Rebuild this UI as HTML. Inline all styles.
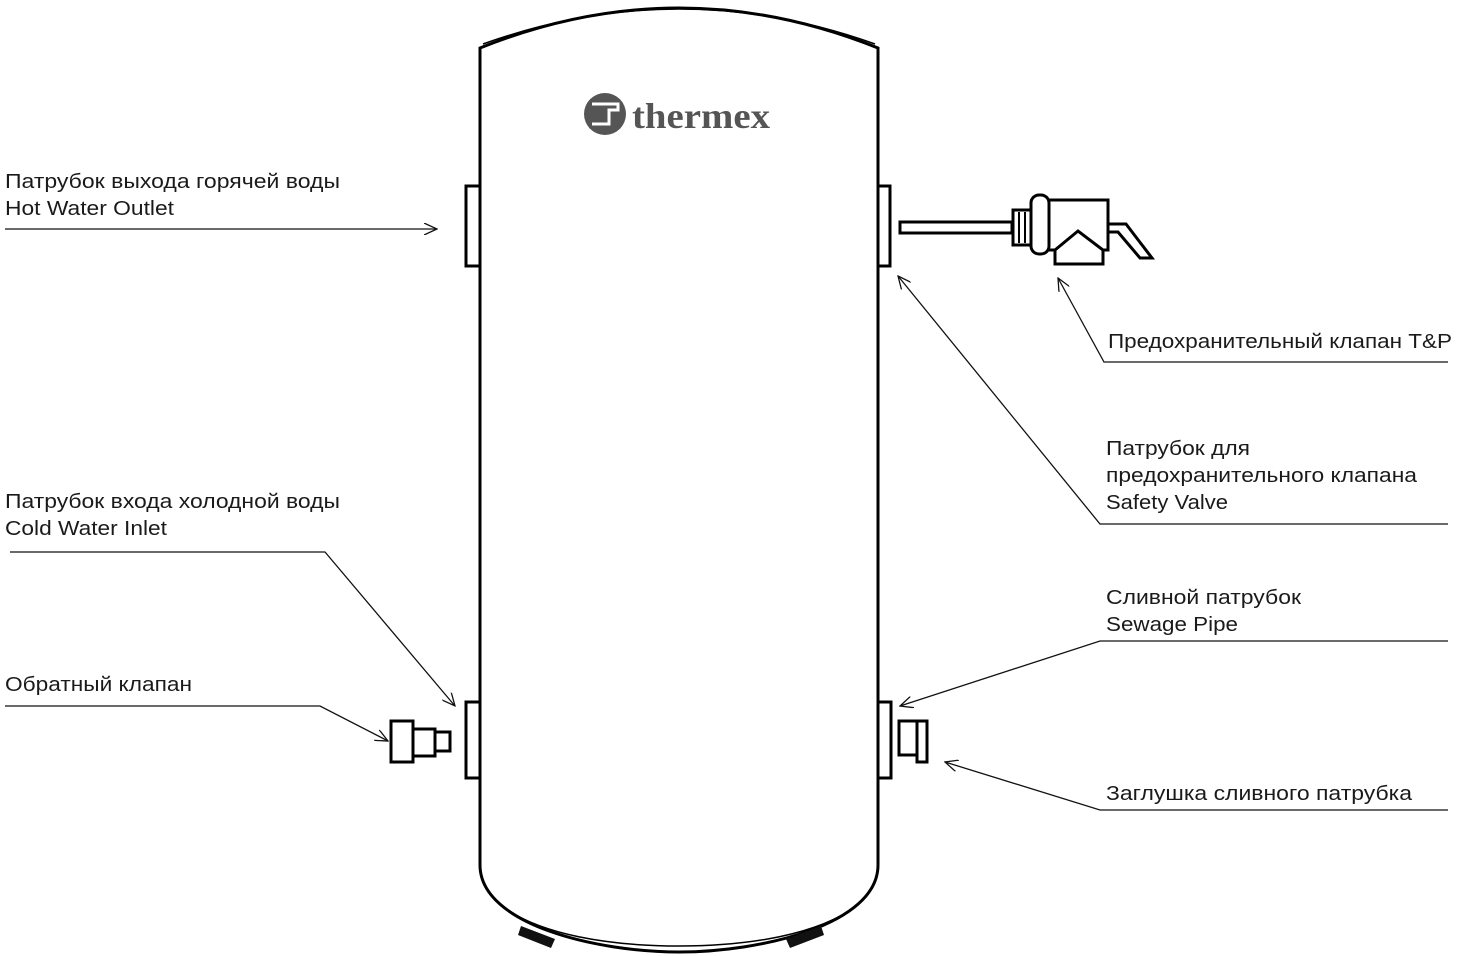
<!DOCTYPE html>
<html><head><meta charset="utf-8"><style>
html,body{margin:0;padding:0;background:#fff;}
svg{display:block}
text{font-family:"Liberation Sans",sans-serif;font-size:20px;fill:#1a1a1a}
</style></head><body>
<svg width="1460" height="956" viewBox="0 0 1460 956" xmlns="http://www.w3.org/2000/svg">
<defs>
<marker id="a" markerWidth="14" markerHeight="12" refX="13" refY="6" orient="auto" markerUnits="userSpaceOnUse">
<path d="M0,0 L13,6 L0,12" fill="none" stroke="#111" stroke-width="1.3"/>
</marker>
</defs>
<!-- tank -->
<path d="M480,48 Q679,-32 878,48 L878,865 C878,925 760,952 679,952 C598,952 480,925 480,865 Z" fill="#fff" stroke="#000" stroke-width="3"/>
<path d="M483,44 Q679,-26 875,44" fill="none" stroke="#000" stroke-width="1.5"/>
<path d="M500,905 C540,935 610,946 679,946 C748,946 818,935 858,905" fill="none" stroke="#000" stroke-width="1.5"/>
<!-- feet -->
<path d="M521,926 L555,939 L551,948 L518,935 Z" fill="#111"/>
<path d="M786,939 L821,926 L824,935 L790,948 Z" fill="#111"/>
<!-- logo -->
<circle cx="605" cy="114" r="21" fill="#555"/>
<path d="M592,104 H618 V110 H609 V124 H592" fill="none" stroke="#fff" stroke-width="3"/>
<text x="632" y="128" textLength="138" lengthAdjust="spacingAndGlyphs" style="font-family:'Liberation Serif',serif;font-size:36px;font-weight:bold;fill:#555">thermex</text>
<!-- fittings -->
<g fill="#fff" stroke="#000" stroke-width="3">
<rect x="466" y="186" width="14" height="80"/>
<rect x="878" y="186" width="12" height="80"/>
<rect x="466" y="702" width="14" height="76"/>
<rect x="878" y="702" width="13" height="76"/>
<rect x="391" y="721" width="22" height="41"/>
<rect x="413" y="729" width="22" height="27"/>
<rect x="435" y="732" width="15" height="19"/>
<rect x="899" y="721" width="18" height="34"/>
<rect x="917" y="721" width="10" height="41"/>
<!-- T&P -->
<rect x="900" y="222" width="112" height="11"/>
<rect x="1013" y="210" width="18" height="35"/>
<path d="M1108,224 H1126 L1152,258 H1140 L1118,232 H1108 Z"/>
<rect x="1047" y="200" width="61" height="50"/>
<path d="M1055,250 L1078,231 L1103,250 V264 H1055 Z"/>
<rect x="1031" y="195" width="18" height="59" rx="8"/>
</g>
<path d="M1019,212 V243 M1025,212 V243" stroke="#000" stroke-width="2"/>
<!-- leaders -->
<g fill="none" stroke="#111" stroke-width="1.3">
<line x1="5" y1="229" x2="437" y2="229" marker-end="url(#a)"/>
<polyline points="10,552 325,552 455,706" marker-end="url(#a)"/>
<polyline points="5,706 320,706 388,741" marker-end="url(#a)"/>
<polyline points="1448,362 1104,362 1058,278" marker-end="url(#a)"/>
<polyline points="1448,524 1100,524 898,276" marker-end="url(#a)"/>
<polyline points="1448,641 1100,641 900,706" marker-end="url(#a)"/>
<polyline points="1448,810 1100,810 945,762" marker-end="url(#a)"/>
</g>
<!-- labels -->
<text x="5" y="188" textLength="335" lengthAdjust="spacingAndGlyphs">Патрубок выхода горячей воды</text>
<text x="5" y="215" textLength="169" lengthAdjust="spacingAndGlyphs">Hot Water Outlet</text>
<text x="5" y="508" textLength="335" lengthAdjust="spacingAndGlyphs">Патрубок входа холодной воды</text>
<text x="5" y="535" textLength="162" lengthAdjust="spacingAndGlyphs">Cold Water Inlet</text>
<text x="5" y="691" textLength="187" lengthAdjust="spacingAndGlyphs">Обратный клапан</text>
<text x="1108" y="348" textLength="344" lengthAdjust="spacingAndGlyphs">Предохранительный клапан T&amp;P</text>
<text x="1106" y="455" textLength="144" lengthAdjust="spacingAndGlyphs">Патрубок для</text>
<text x="1106" y="482" textLength="311" lengthAdjust="spacingAndGlyphs">предохранительного клапана</text>
<text x="1106" y="509" textLength="122" lengthAdjust="spacingAndGlyphs">Safety Valve</text>
<text x="1106" y="604" textLength="195" lengthAdjust="spacingAndGlyphs">Сливной патрубок</text>
<text x="1106" y="631" textLength="132" lengthAdjust="spacingAndGlyphs">Sewage Pipe</text>
<text x="1106" y="800" textLength="306" lengthAdjust="spacingAndGlyphs">Заглушка сливного патрубка</text>
</svg>
</body></html>
